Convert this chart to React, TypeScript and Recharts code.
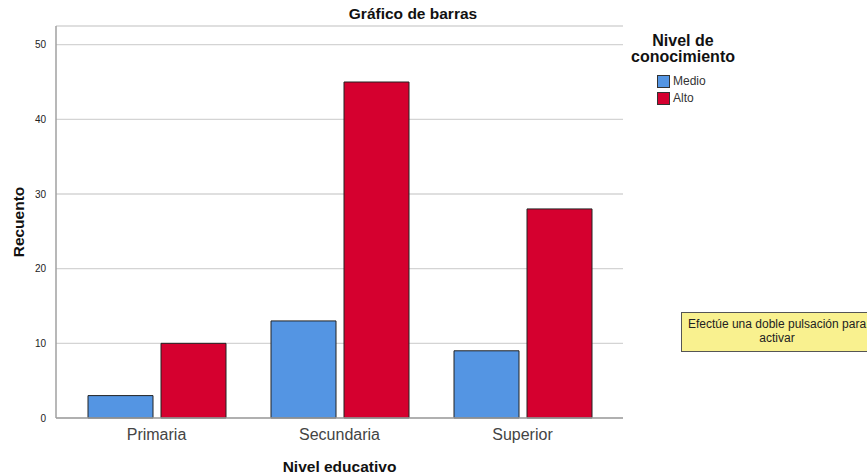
import { BarChart, Bar, XAxis, YAxis, CartesianGrid } from 'recharts';

const niveles = ['Primaria', 'Secundaria', 'Superior'];
const medio = [3, 13, 9];
const alto = [10, 45, 28];
const yTicks = [0, 10, 20, 30, 40, 50];

const data = niveles.map((nivel, i) => ({ nivel, Medio: medio[i], Alto: alto[i] }));

const FONT = '"Liberation Sans", Arial, sans-serif';

export default function App() {
  return (
    <div style={{ position: 'absolute', left: 0, top: 0, width: 867, height: 475, background: '#fff', fontFamily: FONT, overflow: 'hidden' }}>
      <BarChart
        width={867}
        height={475}
        data={data}
        margin={{ top: 26, right: 244, bottom: 0, left: 0 }}
        barSize={65}
        barGap={8}
      >
        <CartesianGrid vertical={false} stroke="#d4d4d4" strokeWidth={1.3} />
        <XAxis
          dataKey="nivel"
          height={57}
          padding={{ left: 9, right: 9 }}
          tickLine={false}
          axisLine={{ stroke: '#a0a0a0', strokeWidth: 1.5 }}
          tick={{ fontSize: 16, fill: '#444', fontFamily: FONT }}
          tickMargin={5}
          label={{ value: 'Nivel educativo', position: 'insideBottom', offset: 3, style: { fontSize: 15.5, fontWeight: 'bold', fill: '#111', fontFamily: FONT } }}
        />
        <YAxis
          width={56}
          domain={[0, 52.5]}
          ticks={yTicks}
          tickLine={false}
          axisLine={{ stroke: '#a0a0a0', strokeWidth: 1.5 }}
          tick={{ fontSize: 10, fill: '#222', fontFamily: FONT }}
          tickMargin={4}
          label={{ value: 'Recuento', angle: -90, position: 'insideLeft', offset: 18, style: { fontSize: 15.5, fontWeight: 'bold', fill: '#111', textAnchor: 'middle', fontFamily: FONT } }}
        />
        <Bar dataKey="Medio" fill="#5495e3" stroke="#222" strokeWidth={1} isAnimationActive={false} />
        <Bar dataKey="Alto" fill="#d5002f" stroke="#222" strokeWidth={1} isAnimationActive={false} />
      </BarChart>

      <div style={{ position: 'absolute', left: 300, top: 5, width: 226, textAlign: 'center', fontSize: 15.5, fontWeight: 'bold', color: '#111' }}>
        Gráfico de barras
      </div>

      <div style={{ position: 'absolute', left: 613, top: 33, width: 140, textAlign: 'center', fontSize: 16, fontWeight: 'bold', color: '#111', lineHeight: '16px' }}>
        Nivel de<br />conocimiento
      </div>
      {[
        { name: 'Medio', color: '#5495e3' },
        { name: 'Alto', color: '#d5002f' },
      ].map((item, i) => (
        <div key={item.name} style={{ position: 'absolute', left: 657, top: 74 + i * 17, display: 'flex', alignItems: 'center', fontSize: 12, color: '#333' }}>
          <span style={{ width: 11, height: 11, background: item.color, border: '1px solid #333', marginRight: 3, display: 'inline-block' }} />
          {item.name}
        </div>
      ))}

      <div style={{ position: 'absolute', left: 681, top: 312, width: 192, height: 40, background: '#f9f18f', border: '1px solid #555', boxSizing: 'border-box', fontSize: 12, color: '#222', textAlign: 'center', lineHeight: '14px', paddingTop: 4, whiteSpace: 'nowrap' }}>
        Efectúe una doble pulsación para<br />activar
      </div>
    </div>
  );
}
